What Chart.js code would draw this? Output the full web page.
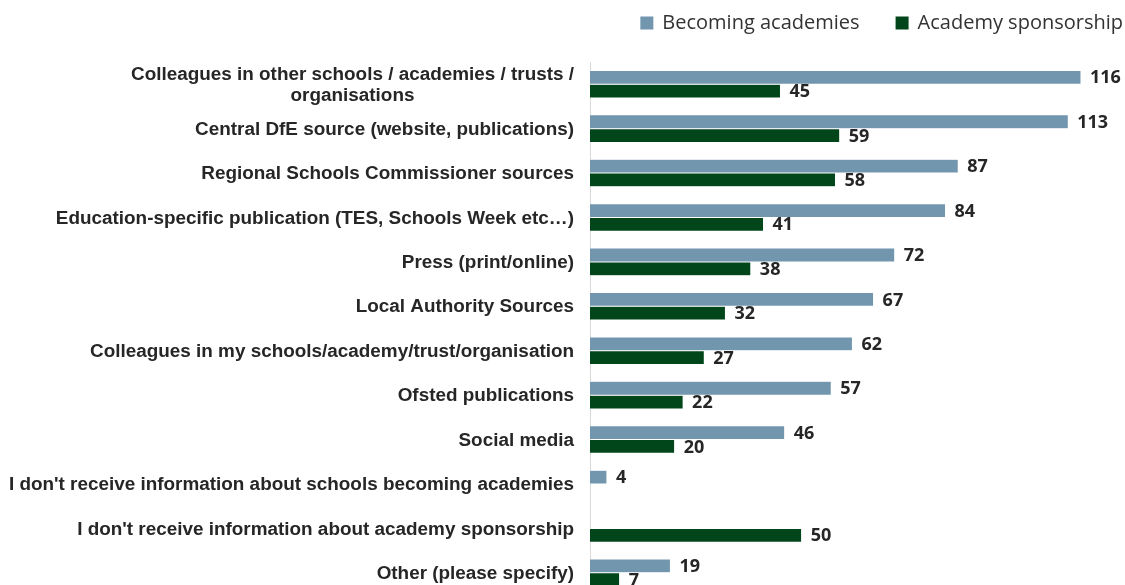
<!DOCTYPE html>
<html>
<head>
<meta charset="utf-8">
<script src="https://cdn.jsdelivr.net/npm/chart.js@4.4.0/dist/chart.umd.min.js"></script>
<style>
  html, body { margin: 0; padding: 0; background: #fff; overflow: hidden; }
  #wrap { position: relative; width: 1125px; height: 600px; }
</style>
</head>
<body>
<div id="wrap"><canvas id="chart"></canvas></div>
<script>
const categories = [
    ['Colleagues in other schools / academies / trusts /', 'organisations'],
    'Central DfE source (website, publications)',
    'Regional Schools Commissioner sources',
    'Education-specific publication (TES, Schools Week etc\u2026)',
    'Press (print/online)',
    'Local Authority Sources',
    'Colleagues in my schools/academy/trust/organisation',
    'Ofsted publications',
    'Social media',
    "I don't receive information about schools becoming academies",
    "I don't receive information about academy sponsorship",
    'Other (please specify)'
];
const seriesNames = ['Becoming academies', 'Academy sponsorship'];
const becomingAcademies = [116, 113, 87, 84, 72, 67, 62, 57, 46, 4, null, 19];
const academySponsorship = [45, 59, 58, 41, 38, 32, 27, 22, 20, null, 50, 7];
const seriesColors = ['#7396AF', '#00461A'];

const textColor = '#262626';
const labelFont = 'bold 18.9px "Liberation Sans", Arial, sans-serif';
const valueFont = 'bold 18px "Open Sans", sans-serif';
const legendFont = '20px "Open Sans", sans-serif';

// category labels, multi-line ones centred on each other like the original
const categoryLabelsPlugin = {
    id: 'categoryLabels',
    afterDraw(chart) {
        const ctx = chart.ctx;
        const y = chart.scales.y;
        const right = chart.chartArea.left - 16;
        ctx.save();
        ctx.font = labelFont;
        ctx.fillStyle = textColor;
        ctx.textBaseline = 'middle';
        ctx.textAlign = 'center';
        categories.forEach((cat, i) => {
            const lines = Array.isArray(cat) ? cat : [cat];
            const cy = y.getPixelForValue(i) + 1;
            const lineH = 21;
            const widest = Math.max(...lines.map(l => ctx.measureText(l).width));
            const mid = right - widest / 2;
            lines.forEach((line, j) => {
                const ly = cy + (j - (lines.length - 1) / 2) * lineH;
                ctx.fillText(line, mid, ly);
            });
        });
        ctx.restore();
    }
};

const valueLabelsPlugin = {
    id: 'valueLabels',
    afterDatasetsDraw(chart) {
        const ctx = chart.ctx;
        ctx.save();
        ctx.font = valueFont;
        ctx.fillStyle = textColor;
        ctx.textAlign = 'left';
        ctx.textBaseline = 'middle';
        chart.data.datasets.forEach((ds, di) => {
            chart.getDatasetMeta(di).data.forEach((bar, i) => {
                if (ds.data[i] == null) return;
                ctx.fillText(ds.data[i], bar.x + 9, bar.y + 1);
            });
        });
        ctx.restore();
    }
};

const topLegendPlugin = {
    id: 'topLegend',
    afterDraw(chart) {
        const ctx = chart.ctx;
        ctx.save();
        ctx.font = legendFont;
        ctx.textBaseline = 'middle';
        ctx.textAlign = 'left';
        const box = 13, boxGap = 9, itemGap = 36, cy = 23;
        let x = 1123;
        const items = chart.data.datasets.map(d => ({ text: d.label, color: d.backgroundColor }));
        for (let k = items.length - 1; k >= 0; k--) {
            const w = ctx.measureText(items[k].text).width;
            x -= w;
            ctx.fillStyle = '#333333';
            ctx.fillText(items[k].text, x, cy);
            x -= boxGap + box;
            ctx.fillStyle = items[k].color;
            ctx.fillRect(x, cy - box / 2, box, box);
            x -= itemGap;
        }
        ctx.restore();
    }
};

new Chart(document.getElementById('chart'), {
    type: 'bar',
    data: {
        labels: categories,
        datasets: [{
            label: seriesNames[0],
            data: becomingAcademies,
            backgroundColor: seriesColors[0],
            borderColor: '#ffffff',
            borderWidth: 0.5
        }, {
            label: seriesNames[1],
            data: academySponsorship,
            backgroundColor: seriesColors[1],
            borderColor: '#ffffff',
            borderWidth: 0.5
        }]
    },
    plugins: [categoryLabelsPlugin, valueLabelsPlugin, topLegendPlugin],
    options: {
        indexAxis: 'y',
        responsive: true,
        maintainAspectRatio: false,
        animation: false,
        layout: { padding: { top: 62, bottom: 5, left: 0, right: 0 } },
        datasets: { bar: { categoryPercentage: 0.62, barPercentage: 1.0 } },
        scales: {
            x: {
                display: false,
                min: 0,
                max: 126.4
            },
            y: {
                grid: { display: false },
                border: { display: true, color: '#d9d9d9', width: 1 },
                ticks: { display: false },
                afterFit(scale) { scale.width = 590; }
            }
        },
        plugins: {
            legend: { display: false },
            tooltip: { enabled: false }
        }
    }
});
</script>
</body>
</html>
